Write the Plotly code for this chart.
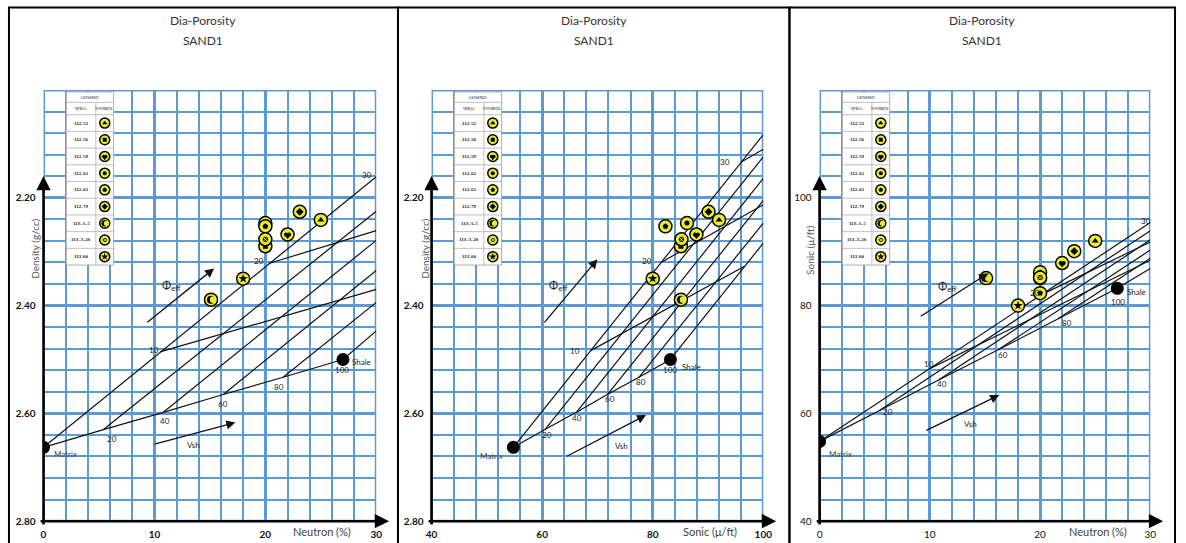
import plotly.graph_objects as go

W, H = 1186, 543
BLUE = "#5b9bd5"
YELLOW = "#ecec2e"
FONT = "Lato"

# ---------------- data ----------------
WELLS = ["112-52", "112-56", "112-59", "112-62", "112-63", "112-79", "113-A-5", "113-A-20", "113-60"]
NEUTRON = [25.0, 20.0, 22.0, 20.0, 20.0, 23.1, 15.1, 20.0, 18.0]
DENSITY = [2.241, 2.290, 2.268, 2.247, 2.253, 2.226, 2.389, 2.277, 2.350]
SONIC = [92.0, 85.1, 87.9, 86.2, 82.3, 90.1, 85.1, 85.2, 80.0]
SYMBOLS = ["triangle-up", "square", "heart", "circle", "pentagon", "diamond", "moon", "square-x", "star"]

# matrix (Vsh 0) -> shale (Vsh 100) points
VSH_PCT = [0, 20, 40, 60, 80, 100]
VSH_NEUTRON = [0.0, 5.4, 10.8, 16.2, 21.6, 27.0]
VSH_DENSITY = [2.663, 2.630, 2.598, 2.565, 2.533, 2.500]
VSH_SONIC = [54.8, 60.5, 66.2, 71.8, 77.5, 83.2]

# Vsh lines: values where they reach the plot's right edge
P1_END_NEUTRON = 30.0
P1_END_DENSITY = [2.161, 2.225, 2.279, 2.335, 2.394, 2.447]
P2_END_SONIC = 100.0
P2_END_DENSITY = [2.083, 2.124, 2.164, 2.205, 2.247, 2.284]
P3_END_NEUTRON = 30.0
P3_END_SONIC = [95.4, 93.9, 92.2, 90.3, 88.8, 86.9]

# iso-porosity lines (10, 20, 30 %)
PHI_PCT = [10, 20, 30]
P1_PHI_START_N = [10.5, 20.3]
P1_PHI_START_D = [2.486, 2.322]
P1_PHI_END_N = [30.0, 30.0]
P1_PHI_END_D = [2.370, 2.261]
P2_PHI_START_S = [68.7, 81.5, 96.1]
P2_PHI_START_D = [2.484, 2.320, 2.133]
P2_PHI_END_S = [96.6, 100.0, 100.0]
P2_PHI_END_D = [2.327, 2.213, 2.110]
P3_PHI_START_N = [10.0, 20.0]
P3_PHI_START_S = [68.3, 81.9]
P3_PHI_END_N = [30.0, 30.0]
P3_PHI_END_S = [88.4, 91.8]

# ---------------- layout geometry ----------------
PY_TOP, PY_BOT = 91, 527
PANELS = [
    dict(xa="x", ya="y", px0=38, px1=375, xr=(0, 30), yr=(2.8, 2.0),
         xt=[0, 10, 20, 30], xtt=["0", "10", "20", "30"], xminor=2,
         yt=[2.0, 2.2, 2.4, 2.6, 2.8], ytt=["", "2.20", "2.40", "2.60", "2.80"], yminor=0.04,
         bold=True, xlabel="Neutron (%)", ylabel="Density (g/cc)",
         xlab_px=(320, 537), ylab_px=(30, 252), cx=200),
    dict(xa="x2", ya="y2", px0=431, px1=767, xr=(40, 100), yr=(2.8, 2.0),
         xt=[40, 60, 80, 100], xtt=["40", "60", "80", "100"], xminor=4,
         yt=[2.0, 2.2, 2.4, 2.6, 2.8], ytt=["", "2.20", "2.40", "2.60", "2.80"], yminor=0.04,
         bold=True, xlabel="Sonic (μ/ft)", ylabel="Density (g/cc)",
         xlab_px=(713, 537), ylab_px=(425, 252), cx=596),
    dict(xa="x3", ya="y3", px0=824, px1=1159, xr=(0, 30), yr=(40, 120),
         xt=[0, 10, 20, 30], xtt=["0", "10", "20", "30"], xminor=2,
         yt=[40, 60, 80, 100, 120], ytt=["40", "60", "80", "100", ""], yminor=4,
         bold=False, xlabel="Neutron (%)", ylabel="Sonic (μ/ft)",
         xlab_px=(1106, 537), ylab_px=(815, 253), cx=989),
]


def to_data(p, px, py):
    x = p["xr"][0] + (px - p["px0"]) / (p["px1"] - p["px0"]) * (p["xr"][1] - p["xr"][0])
    y = p["yr"][0] + (PY_BOT - py) / (PY_BOT - PY_TOP) * (p["yr"][1] - p["yr"][0])
    return x, y


def px_dx(p, dpx):
    return dpx / (p["px1"] - p["px0"]) * (p["xr"][1] - p["xr"][0])


def pap(px, py):
    return px / W, 1 - py / H


fig = go.Figure()
shapes = []
annotations = []

INNER_SIZE = {"triangle-up": 6, "square": 5, "circle": 5, "pentagon": 6,
              "diamond": 6, "square-x": 6, "star": 7, "heart": 6}


def sc(p, x, y, marker, mode="markers", **kw):
    fig.add_trace(go.Scatter(x=[x], y=[y], xaxis=p["xa"], yaxis=p["ya"], mode=mode, marker=marker,
                             hoverinfo="skip", showlegend=False, **kw))


def add_symbol(p, x, y, sym, outer, scale=1.0):
    sc(p, x, y, dict(size=outer, color=YELLOW, line=dict(color="black", width=1.5)))
    if sym == "moon":
        sc(p, x, y, dict(size=8 * scale, color="black", line=dict(width=0)))
        sc(p, x + px_dx(p, 2.2 * scale), y, dict(size=6.6 * scale, color=YELLOW, line=dict(width=0)))
    elif sym == "heart":
        s = scale
        sc(p, x - px_dx(p, 1.5 * s), y, dict(size=4 * s, color="black", line=dict(width=0)))
        sc(p, x + px_dx(p, 1.5 * s), y, dict(size=4 * s, color="black", line=dict(width=0)))
        dy = (to_data(p, 0, 0)[1] - to_data(p, 0, 1.6 * s)[1])
        sc(p, x, y - dy, dict(symbol="triangle-down", size=6 * s, color="black", line=dict(width=0)))
    else:
        mk = dict(symbol=sym, size=INNER_SIZE[sym] * scale, color="black", line=dict(width=0))
        if sym == "square-x":
            mk["line"] = dict(color=YELLOW, width=1)
        sc(p, x, y, mk)


def line_trace(p, segs):
    xs, ys = [], []
    for (x0, y0, x1, y1) in segs:
        xs += [x0, x1, None]
        ys += [y0, y1, None]
    fig.add_trace(go.Scatter(x=xs, y=ys, xaxis=p["xa"], yaxis=p["ya"], mode="lines",
                             line=dict(color="#111111", width=1.2), hoverinfo="skip", showlegend=False))


def label(p, x, y, text, size=9, color="#222222"):
    annotations.append(dict(x=x, y=y, xref=p["xa"], yref=p["ya"], text=text, showarrow=False,
                            xanchor="center", yanchor="middle",
                            font=dict(family=FONT, size=size, color=color)))


def ptext(px, py, text, size, color, family=FONT, angle=0, weight="normal"):
    tx, ty = pap(px, py)
    annotations.append(dict(x=tx, y=ty, xref="paper", yref="paper", text=text, showarrow=False,
                            xanchor="center", yanchor="middle", textangle=angle,
                            font=dict(family=family, size=size, color=color, weight=weight)))


def data_arrow(p, x0, y0, x1, y1):
    annotations.append(dict(x=x1, y=y1, ax=x0, ay=y0, xref=p["xa"], yref=p["ya"],
                            axref=p["xa"], ayref=p["ya"], text="", showarrow=True,
                            arrowhead=2, arrowsize=1.4, arrowwidth=1.3, arrowcolor="#111111"))


# ---------- per-panel lines ----------
P1, P2, P3 = PANELS
line_trace(P1, [(VSH_NEUTRON[i], VSH_DENSITY[i], P1_END_NEUTRON, P1_END_DENSITY[i]) for i in range(6)]
           + [(VSH_NEUTRON[i], VSH_DENSITY[i], VSH_NEUTRON[i + 1], VSH_DENSITY[i + 1]) for i in range(5)]
           + [(P1_PHI_START_N[i], P1_PHI_START_D[i], P1_PHI_END_N[i], P1_PHI_END_D[i]) for i in range(2)])
line_trace(P2, [(VSH_SONIC[i], VSH_DENSITY[i], P2_END_SONIC, P2_END_DENSITY[i]) for i in range(6)]
           + [(VSH_SONIC[i], VSH_DENSITY[i], VSH_SONIC[i + 1], VSH_DENSITY[i + 1]) for i in range(5)]
           + [(P2_PHI_START_S[i], P2_PHI_START_D[i], P2_PHI_END_S[i], P2_PHI_END_D[i]) for i in range(3)])
line_trace(P3, [(VSH_NEUTRON[i], VSH_SONIC[i], P3_END_NEUTRON, P3_END_SONIC[i]) for i in range(6)]
           + [(VSH_NEUTRON[i], VSH_SONIC[i], VSH_NEUTRON[i + 1], VSH_SONIC[i + 1]) for i in range(5)]
           + [(P3_PHI_START_N[i], P3_PHI_START_S[i], P3_PHI_END_N[i], P3_PHI_END_S[i]) for i in range(2)])

# matrix & shale dots
for p, xs, ys in [(P1, VSH_NEUTRON, VSH_DENSITY), (P2, VSH_SONIC, VSH_DENSITY), (P3, VSH_NEUTRON, VSH_SONIC)]:
    fig.add_trace(go.Scatter(x=[xs[0], xs[-1]], y=[ys[0], ys[-1]], xaxis=p["xa"], yaxis=p["ya"],
                             mode="markers", marker=dict(size=13, color="black"),
                             hoverinfo="skip", showlegend=False))

# well points
for p, xs, ys in [(P1, NEUTRON, DENSITY), (P2, SONIC, DENSITY), (P3, NEUTRON, SONIC)]:
    for i, sym in enumerate(SYMBOLS):
        add_symbol(p, xs[i], ys[i], sym, 13)

# ---------- chart labels (placement) ----------
LBL = {
    0: dict(vsh=[(6.2, 2.647), (10.95, 2.615), (16.15, 2.583), (21.25, 2.551), (26.9, 2.519)],
            phi=[(10.0, 2.482), (19.4, 2.317), (29.2, 2.158)],
            matrix=(2.0, 2.675), shale=(28.7, 2.504),
            phi_arrow=(9.23, 2.433, 15.38, 2.331), phi_lbl=(11.5, 2.363),
            vsh_arrow=(9.88, 2.658, 17.3, 2.617), vsh_lbl=(13.5, 2.659)),
    1: dict(vsh=[(60.8, 2.640), (66.3, 2.608), (72.3, 2.574), (77.9, 2.542), (83.2, 2.520)],
            phi=[(65.9, 2.485), (79.0, 2.317), (93.1, 2.134)],
            matrix=(50.8, 2.679), shale=(87.0, 2.514),
            phi_arrow=(60.2, 2.434, 70.0, 2.314), phi_lbl=(63.0, 2.363),
            vsh_arrow=(64.2, 2.681, 78.8, 2.603), vsh_lbl=(74.3, 2.661)),
    2: dict(vsh=[(6.2, 60.3), (11.1, 65.5), (16.65, 70.8), (22.4, 76.8), (27.1, 80.7)],
            phi=[(9.94, 69.1), (19.5, 82.3), (29.6, 95.7)],
            matrix=(1.9, 52.4), shale=(28.7, 82.6),
            phi_arrow=(9.04, 77.85, 15.3, 86.0), phi_lbl=(11.6, 83.5),
            vsh_arrow=(9.55, 56.7, 16.3, 63.4), vsh_lbl=(13.7, 58.1)),
}

for k, p in enumerate(PANELS):
    L = LBL[k]
    for (x, y), v in zip(L["vsh"], VSH_PCT[1:]):
        label(p, x, y, str(v), 8)
    for (x, y), v in zip(L["phi"], PHI_PCT):
        label(p, x, y, str(v), 8)
    label(p, *L["matrix"], "Matrix", 8, "#444444")
    label(p, *L["shale"], "Shale", 8, "#222222")
    data_arrow(p, *L["phi_arrow"])
    data_arrow(p, *L["vsh_arrow"])
    label(p, *L["phi_lbl"], "Φ<sub>eff</sub>", 11, "#222222")
    label(p, *L["vsh_lbl"], "Vsh", 8, "#222222")

# ---------- axes ----------
for k, p in enumerate(PANELS):
    sx = "" if k == 0 else str(k + 1)
    tf = dict(family=FONT, size=10, color="#111111", weight="bold" if p["bold"] else "normal")
    fig.layout["xaxis" + sx] = dict(
        domain=[p["px0"] / W, p["px1"] / W], range=list(p["xr"]), anchor="y" + sx,
        tickmode="array", tickvals=p["xt"], ticktext=p["xtt"],
        showgrid=True, gridcolor=BLUE, gridwidth=3,
        minor=dict(dtick=p["xminor"], tick0=p["xr"][0], showgrid=True, gridcolor=BLUE, gridwidth=1.5),
        zeroline=False, showline=False, ticks="", tickfont=tf, ticklabelstandoff=6, fixedrange=True)
    fig.layout["yaxis" + sx] = dict(
        domain=[1 - PY_BOT / H, 1 - PY_TOP / H], range=list(p["yr"]), anchor="x" + sx,
        tickmode="array", tickvals=p["yt"], ticktext=p["ytt"],
        showgrid=True, gridcolor=BLUE, gridwidth=3,
        minor=dict(dtick=p["yminor"], tick0=min(p["yr"]), showgrid=True, gridcolor=BLUE, gridwidth=1.5),
        zeroline=False, showline=False, ticks="", tickfont=tf, ticklabelstandoff=7, fixedrange=True)

    # blue frame of the grid
    shapes.append(dict(type="rect", xref=p["xa"], yref=p["ya"], x0=p["xr"][0], x1=p["xr"][1],
                       y0=p["yr"][0], y1=p["yr"][1], line=dict(color=BLUE, width=3), layer="between"))

    # black axes with arrows
    ox, oy = pap(p["px0"], PY_BOT)
    tipx, _ = pap(p["px1"] + 13, PY_BOT)
    annotations.append(dict(x=tipx, y=oy, xref="paper", yref="paper", ax=-(p["px1"] + 13 - p["px0"]), ay=0,
                            text="", showarrow=True, arrowhead=2, arrowsize=1.1, arrowwidth=2.6,
                            arrowcolor="black"))
    _, tipy = pap(p["px0"], 178)
    annotations.append(dict(x=ox, y=tipy, xref="paper", yref="paper", ax=0, ay=PY_BOT - 178 + 1,
                            text="", showarrow=True, arrowhead=2, arrowsize=1.1, arrowwidth=2.6,
                            arrowcolor="black"))

    # axis titles
    ptext(*p["xlab_px"], p["xlabel"], 11, "#404040")
    ptext(*p["ylab_px"], p["ylabel"], 10, "#595959", angle=-90)

    # titles
    ptext(p["cx"], 21, "Dia-Porosity", 12, "#333333")
    ptext(p["cx"], 41, "SAND1", 12, "#333333")

    # legend table
    left = p["px0"] + 23
    right = left + 48
    div = left + 30
    top, h1, h2, bot = 93, 103.5, 116, 268
    rh = (bot - h2) / len(WELLS)
    x0d, y0d = to_data(p, left, top)
    x1d, y1d = to_data(p, right, bot)
    shapes.append(dict(type="rect", xref=p["xa"], yref=p["ya"], x0=x0d, x1=x1d, y0=y0d, y1=y1d,
                       fillcolor="white", line=dict(color="#9a9a9a", width=0.8), layer="between"))
    rows = [h1, h2] + [h2 + rh * (j + 1) for j in range(len(WELLS) - 1)]
    for ry in rows:
        a = to_data(p, left, ry)
        b = to_data(p, right, ry)
        shapes.append(dict(type="line", xref=p["xa"], yref=p["ya"], x0=a[0], y0=a[1], x1=b[0], y1=b[1],
                           line=dict(color="#b0b0b0", width=0.8), layer="between"))
    a = to_data(p, div, h1)
    b = to_data(p, div, bot)
    shapes.append(dict(type="line", xref=p["xa"], yref=p["ya"], x0=a[0], y0=a[1], x1=b[0], y1=b[1],
                       line=dict(color="#b0b0b0", width=0.8), layer="between"))
    ptext((left + right) / 2, (top + h1) / 2, "LEGEND", 4.5, "#333333")
    ptext((left + div) / 2, (h1 + h2) / 2, "WELL", 4.5, "#333333")
    ptext((div + right) / 2, (h1 + h2) / 2, "SYMBOL", 4.5, "#333333")
    for j, (wname, sym) in enumerate(zip(WELLS, SYMBOLS)):
        cy = h2 + rh * (j + 0.5)
        ptext((left + div) / 2, cy, wname, 5, "#222222", family="Liberation Serif", weight="bold")
        sxd, syd = to_data(p, (div + right) / 2, cy)
        add_symbol(p, sxd, syd, sym, 10, 0.8)

# panel frames
for (a, b) in [(3, 397), (397, 793.5), (793.5, 1184)]:
    shapes.append(dict(type="rect", xref="paper", yref="paper", x0=a / W, x1=b / W,
                       y0=1 - 560 / H, y1=1 - 7.5 / H, line=dict(color="black", width=2), layer="above"))

fig.update_layout(width=W, height=H, margin=dict(l=0, r=0, t=0, b=0),
                  paper_bgcolor="white", plot_bgcolor="white", showlegend=False,
                  shapes=shapes, annotations=annotations)

fig.write_html("out.html", config={"displayModeBar": False},
               post_script="document.body.style.margin='0px';document.body.style.overflow='hidden';")
